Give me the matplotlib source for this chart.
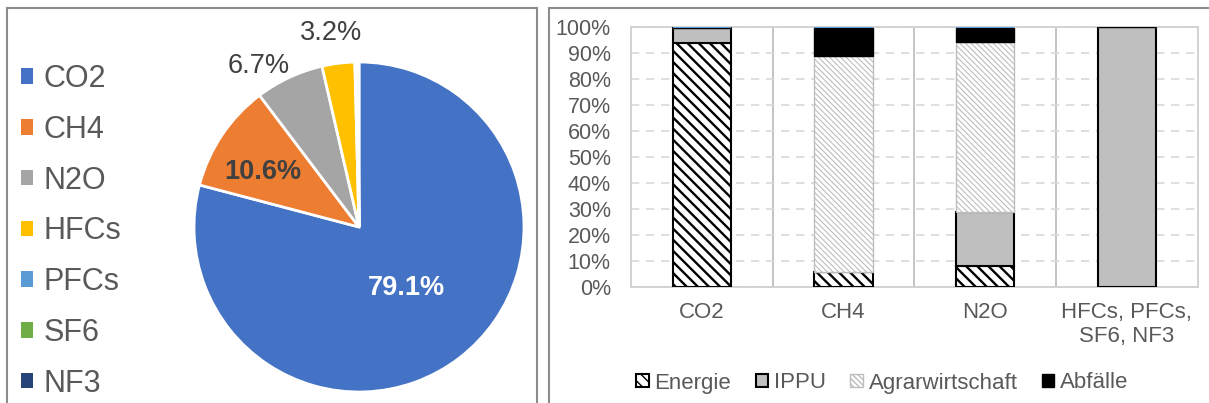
import numpy as np
import matplotlib
matplotlib.use("Agg")
import matplotlib.pyplot as plt
from matplotlib.patches import Patch, Rectangle

plt.rcParams['font.family'] = ['Liberation Sans', 'DejaVu Sans']

# pie data
gases = ["CO2", "CH4", "N2O", "HFCs", "PFCs", "SF6", "NF3"]
shares = [79.1, 10.6, 6.7, 3.2, 0.2, 0.1, 0.1]
gas_colors = ["#4472C4", "#ED7D31", "#A5A5A5", "#FFC000", "#5B9BD5", "#70AD47", "#264478"]

# stacked bar data (% per sector)
groups = ["CO2", "CH4", "N2O", "HFCs, PFCs,\nSF6, NF3"]
energie = [94.0, 5.6, 8.2, 0.0]
ippu = [5.8, 0.0, 20.7, 100.0]
agrar = [0.0, 83.3, 65.2, 0.0]
abfaelle = [0.0, 10.9, 5.7, 0.0]
andere = [0.2, 0.2, 0.2, 0.0]

W, H = 1209, 403
fig = plt.figure(figsize=(W / 100, H / 100), dpi=100)

def fx(px):
    return px / W

def fy(py):
    return 1 - py / H

# panel frames
fig.add_artist(Rectangle((fx(7), fy(430)), fx(530), (430 - 8) / H, transform=fig.transFigure,
                         fill=False, edgecolor="#8C8C8C", lw=1.5))
fig.add_artist(Rectangle((fx(549), fy(430)), fx(700), (430 - 8) / H, transform=fig.transFigure,
                         fill=False, edgecolor="#8C8C8C", lw=1.5))

# ---- pie ----
cx, cy, r = 359, 227, 165
ax = fig.add_axes([fx(cx - r), fy(cy + r), fx(2 * r), 2 * r / H])
wedges, _ = ax.pie(shares, colors=gas_colors, startangle=90, counterclock=False,
                   wedgeprops=dict(edgecolor="white", linewidth=2))
ax.set_xlim(-1, 1)
ax.set_ylim(-1, 1)

# label placement: (distance, angle offset), None = no label
lab_pos = [(0.47, 0, "white", "bold"), (0.67, 4, "#404040", "bold"),
           (1.15, 7, "#404040", "normal"), (1.19, 1, "#404040", "normal"),
           None, None, None]
for w, v, lp in zip(wedges, shares, lab_pos):
    if lp is None:
        continue
    d, off, col, wt = lp
    ang = np.deg2rad((w.theta1 + w.theta2) / 2 + off)
    ax.text(d * np.cos(ang), d * np.sin(ang), "%.1f%%" % v, ha="center", va="center",
            fontsize=19.5, color=col, fontweight=wt, clip_on=False)

handles = [Patch(facecolor=c, edgecolor="none") for c in gas_colors]
fig.legend(handles, gases, loc="upper left", bbox_to_anchor=(fx(21), fy(64)),
           frameon=False, fontsize=22, handlelength=0.4, handleheight=0.4,
           handletextpad=0.33, labelspacing=0.68, borderpad=0, borderaxespad=0,
           labelcolor="#595959")

# ---- stacked bars ----
ax2 = fig.add_axes([fx(631), fy(287), fx(1197.7 - 631), 260 / H])
x = np.arange(len(groups))
bw = 0.41

def hatched_bar(bottom, vals, hatch_lw, **kw):
    plt.rcParams['hatch.linewidth'] = hatch_lw
    bars = ax2.bar(x, vals, bw, bottom=bottom, zorder=3, **kw)
    for b in bars:
        if hasattr(b, "set_hatch_linewidth"):
            b.set_hatch_linewidth(hatch_lw)
    return bars

base = np.zeros(len(groups))
b1 = hatched_bar(base, energie, 1.7, facecolor="white", edgecolor="black", hatch="\\\\\\", lw=1.5, label="Energie")
base = base + energie
b2 = hatched_bar(base, ippu, 1.0, facecolor="#BFBFBF", edgecolor="black", lw=1.5, label="IPPU")
base = base + ippu
b3 = hatched_bar(base, agrar, 0.8, facecolor="white", edgecolor="#BDBDBD", hatch="\\\\\\\\\\\\", lw=1.0, label="Agrarwirtschaft")
base = base + agrar
b4 = hatched_bar(base, abfaelle, 1.0, facecolor="black", edgecolor="black", lw=1.0, label="Abfälle")
base = base + abfaelle
ax2.bar(x, andere, bw, bottom=base, color="#5B9BD5", lw=0, zorder=3)

ax2.set_xlim(-0.5, len(groups) - 0.5)
ax2.set_ylim(0, 100)
ax2.set_yticks(np.arange(0, 101, 10))
ax2.set_yticklabels(["%d%%" % v for v in range(0, 101, 10)])
ax2.set_xticks(x)
ax2.set_xticklabels(groups)
ax2.tick_params(axis="y", length=0, pad=14.5, labelsize=15.5, labelcolor="#595959")
ax2.tick_params(axis="x", length=0, pad=11, labelsize=16, labelcolor="#595959")
ax2.yaxis.grid(True, color="#D9D9D9", lw=1.2, linestyle=(0, (5, 4)), zorder=0)
for xs in x[:-1] + 0.5:
    ax2.axvline(xs, color="#BFBFBF", lw=1.3, zorder=1)
for sp in ax2.spines.values():
    sp.set_color("#D0D0D0")
    sp.set_linewidth(1.3)

fig.legend(handles=[b1, b2, b3, b4], loc="center", bbox_to_anchor=(fx(882.5), fy(383)),
           ncol=4, frameon=False, fontsize=16, handlelength=0.55, handleheight=0.55,
           handletextpad=0.27, columnspacing=1.1, borderpad=0, borderaxespad=0,
           labelcolor="#595959")

fig.savefig("out.png", dpi=100)
